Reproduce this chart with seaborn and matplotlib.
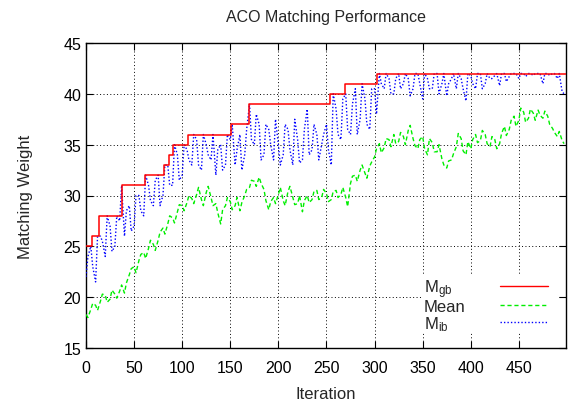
import matplotlib
matplotlib.use("Agg")
import matplotlib.pyplot as plt
import seaborn as sns
import numpy as np
import pandas as pd
from matplotlib.lines import Line2D
from matplotlib.patches import Rectangle

# ---- data ----
gb_iter = [0, 6, 14, 37, 61, 81, 86, 90, 106, 151, 169, 254, 269, 303, 499]
gb_val = [25, 26, 28, 31, 32, 33, 34, 35, 36, 37, 39, 40, 41, 42, 42]

iter_a = list(range(0, 500, 5))
iter_b = list(range(2, 500, 5))

mean_a = [18.3, 18.8, 19.2, 19.6, 20.2, 19.8, 20.3, 20.6, 20.4, 22.2,
          23.0, 23.6, 24.4, 24.8, 25.2, 25.6, 26.8, 27.2, 27.8, 28.4,
          29.0, 29.3, 29.7, 30.1, 29.6, 30.3, 29.8, 29.2, 27.2, 29.0,
          29.4, 29.0, 28.5, 30.0, 30.8, 31.4, 31.8, 30.6, 28.6, 29.8,
          30.1, 29.5, 30.4, 29.8, 29.2, 28.4, 30.0, 29.6, 30.5, 29.8,
          30.2, 29.6, 30.5, 30.1, 29.8, 31.2, 32.0, 32.5, 32.2, 32.9,
          33.8, 35.1, 34.7, 35.5, 36.0, 35.3, 35.8, 36.4, 35.6, 34.6,
          35.8, 34.0, 35.2, 34.3, 33.6, 32.7, 33.5, 34.8, 35.6, 34.0,
          34.6, 36.0, 35.4, 36.0, 34.8, 35.5, 35.1, 36.8, 36.5, 37.8,
          37.4, 38.2, 37.6, 38.1, 38.4, 37.6, 37.8, 36.6, 35.8, 35.4]

mean_b = [18.0, 19.4, 18.7, 20.3, 19.5, 20.7, 19.9, 21.2, 21.4, 22.8,
          22.4, 24.2, 23.8, 25.6, 24.6, 26.4, 26.2, 28.0, 27.3, 29.1,
          28.5, 30.0, 29.2, 30.8, 29.0, 30.9, 29.0, 28.3, 28.6, 29.8,
          28.6, 29.8, 29.3, 30.6, 31.5, 30.9, 31.2, 29.5, 29.4, 29.2,
          30.8, 29.0, 30.9, 29.1, 30.0, 29.5, 29.3, 30.4, 29.6, 30.6,
          29.4, 30.4, 29.8, 30.8, 28.9, 31.9, 31.4, 33.0, 31.7, 33.3,
          34.6, 34.2, 35.6, 34.8, 35.1, 36.2, 35.0, 36.9, 34.9, 35.5,
          34.6, 35.6, 34.3, 35.0, 33.0, 33.4, 34.1, 36.1, 34.4, 35.3,
          35.5, 35.2, 36.4, 35.1, 35.8, 34.6, 36.1, 35.9, 37.4, 36.8,
          38.6, 37.2, 38.5, 37.4, 37.9, 38.3, 37.0, 36.2, 36.3, 35.1]

ib_a = [22, 25, 21.5, 26, 24, 27, 25, 27.5, 26, 29,
        27, 30, 28, 31, 29, 32, 30, 33, 31, 34,
        32, 34.5, 33, 35.5, 32.5, 35, 33.5, 32, 35, 33,
        35.5, 33, 36, 34, 39, 35, 37, 34, 36.5, 33.5,
        35, 34, 36.5, 33, 35.5, 33.5, 38.5, 34.5, 36, 35,
        37, 33, 38.5, 35.5, 40, 36, 40.5, 37.5, 39.5, 36.5,
        40.5, 42, 40.5, 41.5, 40, 42, 41, 41.5, 40.5, 42,
        39.5, 41.5, 40.5, 42, 41, 39.8, 41.5, 40.5, 41.5, 39.3,
        41.8, 40.5, 42, 41, 41.5, 41.8, 40.8, 42, 41.7, 42,
        41.5, 42, 42, 41.8, 42, 41, 42, 42, 41.5, 40.2]

ib_b = [24, 23, 26, 25.5, 28, 24.5, 28, 31, 28.5, 26.5,
        30, 28.5, 32, 29.5, 31.5, 29, 33, 31, 35, 31.5,
        35, 33.5, 36, 33, 36, 34, 36, 34.5, 32.5, 36,
        37, 34.5, 32.5, 36.5, 35.5, 38, 33.5, 37, 35, 37.5,
        33, 37, 34.5, 37.5, 33.2, 36.5, 34, 37, 33.5, 36,
        34.5, 40, 36, 39.5, 36.5, 39, 36, 41, 37, 40.5,
        38, 41, 42, 40, 41.5, 40.5, 42, 39.8, 42, 41,
        42, 40.5, 42, 40, 42, 41, 42, 42, 40.5, 42,
        41, 42, 40.5, 42, 41.5, 42, 42, 41.2, 42, 42,
        42, 41.7, 42, 42, 42, 42, 41.8, 42, 42, 40.0]

x_ticks = [0, 50, 100, 150, 200, 250, 300, 350, 400, 450]
y_ticks = [15, 20, 25, 30, 35, 40, 45]
legend_labels = ["M$_{gb}$", "Mean", "M$_{ib}$"]

RED, GREEN, BLUE = "#ff0000", "#00ee00", "#0000ff"
DASH, DOT = (0, (3, 2)), (0, (1, 1.5))

# ---- style ----
sns.set_style("ticks")
plt.rcParams["font.family"] = ["Liberation Sans", "DejaVu Sans"]
plt.rcParams["mathtext.default"] = "regular"

fig = plt.figure(figsize=(5.68, 4.02), dpi=100)
ax = fig.add_axes([86 / 568, 1 - 349 / 402, 480 / 568, 305 / 402])

df_gb = pd.DataFrame({"Iteration": gb_iter, "Weight": gb_val})
df_s = pd.DataFrame({"Iteration": iter_a + iter_b,
                     "Mean": mean_a + mean_b,
                     "Mib": ib_a + ib_b}).sort_values("Iteration")

sns.lineplot(data=df_gb, x="Iteration", y="Weight", ax=ax, color=RED,
             linewidth=1.1, drawstyle="steps-post", zorder=4)
sns.lineplot(data=df_s, x="Iteration", y="Mean", ax=ax, color=GREEN,
             linewidth=1.0, linestyle=DASH, zorder=3)
sns.lineplot(data=df_s, x="Iteration", y="Mib", ax=ax, color=BLUE,
             linewidth=1.0, linestyle=DOT, zorder=3)

ax.set_xlim(0, 499)
ax.set_ylim(15, 45)
ax.set_xticks(x_ticks)
ax.set_yticks(y_ticks)
ax.tick_params(direction="in", top=True, right=True, length=5, width=0.8,
               labelsize=11.5, colors="black")
ax.tick_params(axis="x", pad=8.5)
ax.grid(True, color="black", linestyle=(0, (1, 2.5)), linewidth=0.7)
ax.set_axisbelow(True)
for s in ax.spines.values():
    s.set_linewidth(1.0)
    s.set_color("black")

ax.set_xlabel("Iteration", fontsize=12, labelpad=8)
ax.set_ylabel("Matching Weight", fontsize=12, labelpad=22)
ax.set_title("ACO Matching Performance", fontsize=11.5, pad=15.5)

# key (gnuplot style: text left, sample right, blanked background)
ax.add_patch(Rectangle((0.70, 0.049), 0.283, 0.187, transform=ax.transAxes,
                       facecolor="white", edgecolor="none", zorder=2.5))
text_y = [0.1836, 0.1213, 0.0656]
line_y = [0.2023, 0.142, 0.0843]
styles = [(RED, "-"), (GREEN, DASH), (BLUE, DOT)]
for lab, ty, ly, (c, ls) in zip(legend_labels, text_y, line_y, styles):
    ax.text(0.704, ty, lab, transform=ax.transAxes, fontsize=12,
            ha="left", va="baseline", zorder=5)
    ax.add_line(Line2D([0.8625, 0.963], [ly, ly], transform=ax.transAxes,
                       color=c, linestyle=ls, lw=1.0, zorder=5))

fig.savefig("out.png", dpi=100)
